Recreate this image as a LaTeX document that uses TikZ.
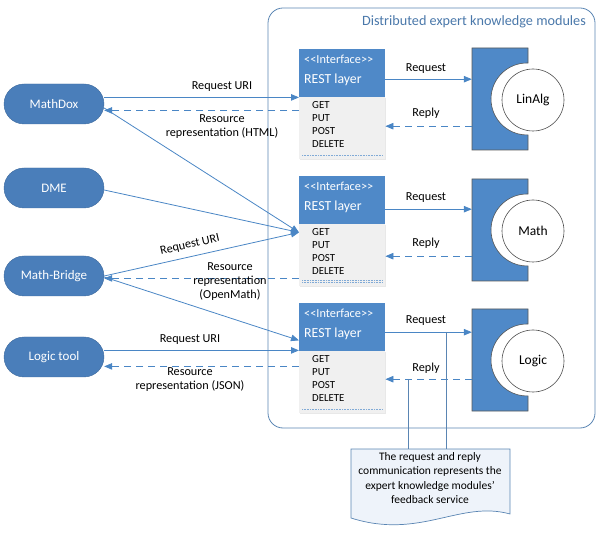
\documentclass[tikz,border=0pt]{standalone}
\usepackage{fontspec}
\setmainfont{Carlito}
\usetikzlibrary{arrows.meta,shadows,calc}
\definecolor{cblue}{HTML}{4F89C8}
\definecolor{eblue}{HTML}{4A7EBA}
\definecolor{lblue}{HTML}{4A86C5}
\definecolor{framec}{HTML}{5A85B3}
\definecolor{gbody}{HTML}{F0F0F0}
\definecolor{notefill}{HTML}{EEF3FA}
\definecolor{titlec}{HTML}{4A78AA}
\newcommand\ekmod[4]{%
  \node[minimum width=56pt, minimum height=102pt, inner sep=0pt] (#1) at (500,#2) {};
  \filldraw[fill=cblue, draw=black!65, line width=0.6pt]
    (472,#2-51) -- (528,#2-51) -- (528,#2-36)
    arc[start angle=-88.4, end angle=-271.6, radius=36]
    -- (528,#2+51) -- (472,#2+51) -- cycle;
  \node[circle, draw=black!70, fill=white, line width=0.6pt, minimum size=62pt, inner sep=0pt, font=\fontsize{13.5}{15}\selectfont] (#3) at (533,#2+1) {#4};
}
\begin{document}
\begin{tikzpicture}[x=1pt,y=-1pt,
  client/.style={rounded corners=20pt, fill=eblue, draw=eblue!85!black, line width=0.4pt,
    minimum width=100pt, minimum height=40pt, inner sep=0pt, text=white,
    font=\fontsize{13}{15}\selectfont},
  hdr/.style={rectangle, fill=cblue, minimum width=86pt, minimum height=48pt, inner sep=0pt, anchor=north west},
  body/.style={rectangle, fill=gbody, minimum width=86pt, minimum height=62pt, inner sep=0pt, anchor=north west,
    drop shadow={opacity=0.18, shadow xshift=1pt, shadow yshift=-1.2pt}},
  itxt/.style={anchor=west, text=white, inner sep=0pt, font=\fontsize{12.3}{14}\selectfont},
  rtxt/.style={anchor=west, text=white, inner sep=0pt, font=\fontsize{13.8}{15}\selectfont},
  mtxt/.style={anchor=west, inner sep=0pt, align=left, font=\fontsize{10.8}{13.2}\selectfont},
  lab/.style={inner sep=0pt, align=center, font=\fontsize{12.2}{14}\selectfont},
  req/.style={draw=lblue, line width=0.8pt, -{Triangle[length=8pt,width=6.5pt]}},
  rep/.style={draw=lblue, line width=0.8pt, dash pattern=on 7pt off 5pt, -{Triangle[length=8pt,width=6.5pt]}},
  dots/.style={draw=lblue!70, line width=0.8pt, dash pattern=on 0.8pt off 0.8pt},
  nline/.style={draw=framec, line width=0.7pt}
]
\useasboundingbox (0,0) rectangle (600,537);

% container
\draw[framec, line width=0.8pt, rounded corners=15pt] (268,8) rectangle (595,428);
\node[inner sep=0pt, text=titlec, font=\fontsize{14.2}{16}\selectfont] (title) at (474,22) {Distributed expert knowledge modules};

% interface boxes
\foreach \i/\y in {1/49, 2/176, 3/303} {
  \node[body] (body\i) at (299,\y+48) {};
  \node[hdr] (hdr\i) at (299,\y) {};
  \node[itxt] (it\i) at (304,\y+10) {<\kern0pt<Interface>\kern0pt>};
  \node[rtxt] (rt\i) at (304,\y+31) {REST layer};
  \node[mtxt, anchor=north west] (mt\i) at (312,\y+52) {GET\\PUT\\POST\\DELETE};
}
\draw[dots] ([xshift=3pt,yshift=4pt]body1.south west) -- ([xshift=-3pt,yshift=4pt]body1.south east);
\draw[dots] ([xshift=3pt,yshift=6pt]body2.south west) -- ([xshift=-3pt,yshift=6pt]body2.south east);
\draw[dots] ([xshift=3pt,yshift=3.5pt]body2.south west) -- ([xshift=-3pt,yshift=3.5pt]body2.south east);
\draw[dots] ([xshift=3pt,yshift=4pt]body3.south west) -- ([xshift=-3pt,yshift=4pt]body3.south east);

% modules
\ekmod{m1}{99}{c1}{LinAlg}
\ekmod{m2}{230}{c2}{Math}
\ekmod{m3}{360}{c3}{Logic}

% module arrows
\draw[req] ([yshift=-6pt]hdr1.east) -- ([yshift=-6pt]hdr1.east -| m1.west);
\draw[rep] ([yshift=2pt]body1.east -| m1.west) -- ([yshift=2pt]body1.east);
\draw[req] ([yshift=-9pt]hdr2.east) -- ([yshift=-9pt]hdr2.east -| m2.west);
\draw[rep] ([yshift=-1pt]body2.east -| m2.west) -- ([yshift=-1pt]body2.east);
\draw[req] ([yshift=-5pt]hdr3.east) -- ([yshift=-5pt]hdr3.east -| m3.west);
\draw[rep] ([yshift=3pt]body3.east -| m3.west) -- ([yshift=3pt]body3.east);
\node[lab] (lq1) at (426,69) {Request};
\node[lab] (lr1) at (426,113) {Reply};
\node[lab] (lq2) at (426,198) {Request};
\node[lab] (lr2) at (426,243) {Reply};
\node[lab] (lq3) at (426,321) {Request};
\node[lab] (lr3) at (426,368) {Reply};

% clients
\node[client] (md) at (54,104) {MathDox};
\node[client] (dme) at (54,188) {DME};
\node[client] (mb) at (54,276) {Math-Bridge};
\node[client] (lt) at (54,357) {Logic tool};

% client connectors
\draw[req] (hdr1.south west -| md.east) -- (hdr1.south west);
\draw[rep] ([yshift=-13pt]hdr1.south west) -- ([yshift=-13pt]hdr1.south west -| md.east);
\draw[req] ([yshift=-4pt]md.east) -- ([yshift=-8pt]hdr2.south west);
\draw[req] ([yshift=-2pt]dme.east) -- ([yshift=-8pt]hdr2.south west);
\draw[req] (mb.east) -- ([yshift=-8pt]hdr2.south west);
\draw[rep] ([yshift=-54pt]hdr2.south west) -- ([yshift=-54pt]hdr2.south west -| mb.east);
\draw[req] ([yshift=-1pt]mb.east) -- ([yshift=11pt]hdr3.south west);
\draw[req] ([yshift=1pt]hdr3.south west -| lt.east) -- ([yshift=1pt]hdr3.south west);
\draw[rep] ([yshift=-15pt]hdr3.south west) -- ([yshift=-15pt]hdr3.south west -| lt.east);

\node[lab] (l1) at (222,87) {Request URI};
\node[lab] (l2) at (222,127) {Resource\\representation (HTML)};
\node[lab, rotate=13] (l3) at (190,245) {Request URI};
\node[lab] (l4) at (230,282) {Resource\\representation\\(OpenMath)};
\node[lab] (l5) at (190,340) {Request URI};
\node[lab] (l6) at (190,380) {Resource\\representation (JSON)};

% note
\filldraw[fill=notefill, draw=framec, line width=0.7pt]
  (351,449) -- (510,449) -- (510,514)
  .. controls (460,500) and (420,540) .. (351,518) -- cycle;
\node[inner sep=0pt, align=center, font=\fontsize{11.5}{14.2}\selectfont] (note) at (430,478)
  {The request and reply\\communication represents the\\expert knowledge modules'\\feedback service};
\coordinate (ntop) at (430,449);
\coordinate (q3) at (446,332);
\coordinate (r3) at (408,379);
\draw[nline] (q3) -- (q3 |- ntop);
\draw[nline] (r3) -- (r3 |- ntop);
\end{tikzpicture}
\end{document}
